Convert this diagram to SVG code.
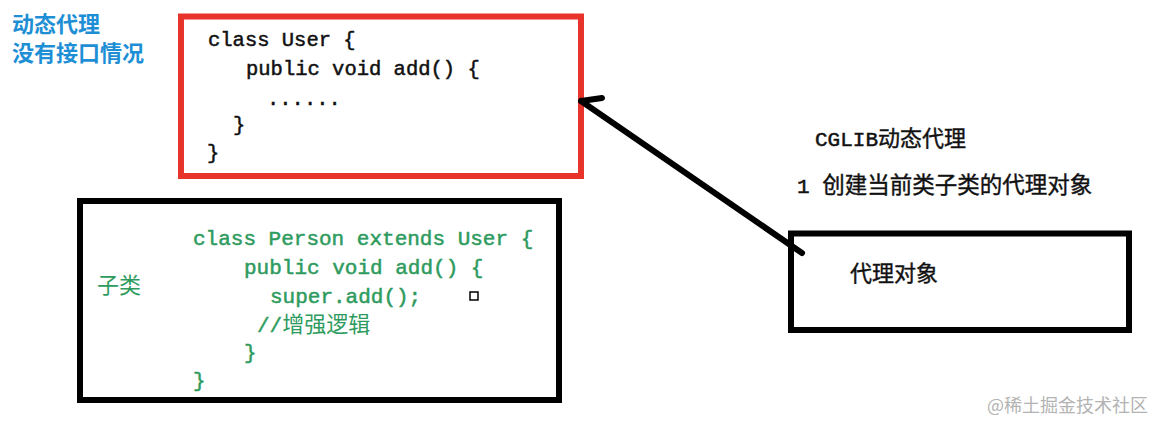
<svg xmlns="http://www.w3.org/2000/svg" width="1163" height="430" viewBox="0 0 1163 430">
<style>
.box{fill:none;stroke:#000;stroke-width:6}
.red{fill:none;stroke:#e8332b;stroke-width:6}
.code{font-family:"Liberation Mono","Noto Sans CJK SC",monospace;font-size:20.5px;fill:#111;stroke:#111;stroke-width:0.5}
.gcode{font-family:"Liberation Mono","Noto Sans CJK SC",monospace;font-size:21px;fill:#2e9b5e;stroke:#2e9b5e;stroke-width:0.5}
.cjk{font-family:"Noto Sans CJK SC",sans-serif;stroke:none}
.rcjk{font-family:"Noto Sans CJK SC",sans-serif;font-weight:normal;fill:#111;stroke:#111;stroke-width:0.4}
.blue{font-family:"Noto Sans CJK SC",sans-serif;font-size:22px;font-weight:bold;fill:#1e8fd5}
.lbl{font-family:"Liberation Mono","Noto Sans CJK SC",monospace;font-size:21px;fill:#111;stroke:#111;stroke-width:0.5}
.wm{font-family:"Noto Sans CJK SC",sans-serif;font-size:18px;fill:#b3b3b3}
</style>
<rect width="1163" height="430" fill="#fff"/>
<g id="title">
<text class="blue" x="12" y="32">动态代理</text>
<text class="blue" x="12" y="61">没有接口情况</text>
</g>
<g id="user-class">
<rect class="red" x="181" y="16.5" width="400" height="159.5"/>
<text class="code" x="208" y="46">class User {</text>
<text class="code" x="246" y="75">public void add() {</text>
<text class="code" x="267" y="105">......</text>
<text class="code" x="233" y="131">}</text>
<text class="code" x="207" y="159">}</text>
</g>
<g id="person-class">
<rect class="box" x="80" y="201" width="479" height="199"/>
<text class="gcode cjk" x="97" y="293" style="font-size:22px">子类</text>
<text class="gcode" x="193" y="245">class Person extends User {</text>
<text class="gcode" x="244" y="274">public void add() {</text>
<text class="gcode" x="270" y="303">super.add();</text>
<text class="gcode" x="257" y="332">//<tspan class="cjk" style="font-size:22px">增强逻辑</tspan></text>
<text class="gcode" x="244" y="359">}</text>
<text class="gcode" x="193" y="387">}</text>
<rect x="470" y="292" width="8" height="8" fill="#fff" stroke="#000" stroke-width="1.5"/>
</g>
<g id="cglib-note">
<text class="lbl" x="815" y="146">CGLIB<tspan class="rcjk" style="font-size:22px">动态代理</tspan></text>
<text class="lbl" x="797" y="193">1 <tspan class="rcjk" style="font-size:22.5px">创建当前类子类的代理对象</tspan></text>
</g>
<g id="proxy-object">
<rect class="box" x="791" y="233.5" width="338" height="96.5"/>
<text class="rcjk" x="850" y="281" style="font-size:22px">代理对象</text>
</g>
<g id="connectors">
<path d="M802,253 L581,101 M581,101 L602,98" fill="none" stroke="#000" stroke-width="6" stroke-linecap="round" stroke-linejoin="round"/>
</g>
<text class="wm" x="987" y="412">@稀土掘金技术社区</text>
</svg>
